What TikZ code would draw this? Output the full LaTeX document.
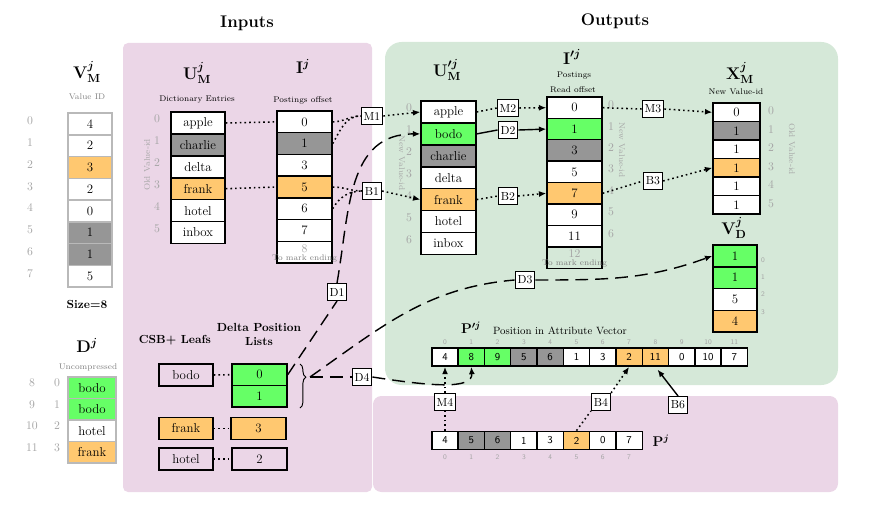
\documentclass[tikz,border=0pt]{standalone}
\usetikzlibrary{arrows.meta,decorations.pathreplacing}
\definecolor{cellgray}{RGB}{150,150,150}
\definecolor{cellgreen}{RGB}{102,255,102}
\definecolor{cellorange}{RGB}{255,200,112}
\definecolor{inpink}{RGB}{235,214,231}
\definecolor{outgreen}{RGB}{213,232,216}
\definecolor{idxgray}{RGB}{165,165,165}
\begin{document}
\begin{tikzpicture}[x=0.03cm,y=-0.03cm,>={Latex[length=2.2mm,width=1.8mm]},
    title/.style={font=\Large\bfseries\boldmath},
    sub/.style={font=\scriptsize},
    idx/.style={text=idxgray},
    sidx/.style={text=idxgray,font=\sffamily\fontsize{6}{7}\selectfont},
    vlab/.style={text=idxgray,font=\scriptsize,rotate=-90},
    cell/.style={draw,line width=1.2pt,inner sep=0pt,minimum height=0.65cm,font=\fontsize{11}{13}\selectfont},
    lcell/.style={draw=gray!55,line width=1.2pt,inner sep=0pt,minimum height=0.65cm,font=\fontsize{11}{13}\selectfont},
    pcell/.style={draw,line width=1.2pt,inner sep=0pt,minimum width=0.79cm,minimum height=0.55cm,font=\sffamily\small},
    tag/.style={draw,line width=1.2pt,fill=white,inner sep=2pt,minimum height=0.5cm},
    dots/.style={dash pattern=on 1.4pt off 2.6pt,line width=1.3pt},
    longdash/.style={dash pattern=on 11pt off 6pt,line width=1.2pt}]
\useasboundingbox (0,0) rectangle (874,507);

\fill[inpink,rounded corners=0.15cm] (123,43) rectangle (372,492);
\fill[outgreen,rounded corners=0.5cm] (385,42) rectangle (838,385);
\fill[inpink,rounded corners=0.25cm] (373,396) rectangle (838,492);

\node[font=\Large\bfseries] (inputs) at (247,23) {Inputs};
\node[font=\Large\bfseries] (outputs) at (615,21) {Outputs};

% left column
\node[title] (vmt) at (87,72) {$\mathbf{V}^j_\mathbf{M}$};
\node[sub,text=gray] (vmsub) at (87,97) {Value ID};
\foreach \v/\c [count=\i from 0] in {4/white,2/white,3/cellorange,2/white,0/white,1/cellgray,1/cellgray,5/white} {
    \node[lcell,minimum width=1.32cm,fill=\c] (vm\i) at (90,{123.9+21.75*\i}) {\v};
    \node[idx] (vmi\i) at (30,{121+21.75*\i}) {\i};
}
\node[font=\bfseries] (size) at (87,304) {Size=8};
\node[title] (djt) at (87,345) {$\mathbf{D}^j$};
\node[sub,text=gray] (djsub) at (88,367) {Uncompressed};
\foreach \t/\c [count=\i from 0] in {bodo/cellgreen,bodo/cellgreen,hotel/white,frank/cellorange} {
    \pgfmathtruncatemacro\o{\i+8}
    \node[lcell,minimum width=1.44cm,fill=\c] (dj\i) at (92,{387.8+21.5*\i}) {\t};
    \node[idx] (djo\i) at (32,{383+21.5*\i}) {\o};
    \node[idx] (dji\i) at (57,{383+21.5*\i}) {\i};
}

% inputs
\node[title] (umt) at (197,73) {$\mathbf{U}^j_\mathbf{M}$};
\node[sub] (umsub) at (197,100) {Dictionary Entries};
\foreach \t/\c [count=\i from 0] in {apple/white,charlie/cellgray,delta/white,frank/cellorange,hotel/white,inbox/white} {
    \node[cell,minimum width=1.62cm,fill=\c] (um\i) at (198,{123+21.9*\i}) {\t};
    \node[idx] (umi\i) at (157,{119+21.9*\i}) {\i};
}
\node[vlab,rotate=180] (umv) at (147,165) {Old Value-id};
\node[title] (ijt) at (303,66) {$\mathbf{I}^j$};
\node[sub] (ijsub) at (303,100) {Postings offset};
\foreach \v/\c [count=\i from 0] in {0/white,1/cellgray,3/white,5/cellorange,6/white,7/white,{}/white} {
    \node[cell,minimum width=1.65cm,fill=\c] (ij\i) at (304.5,{121.9+21.7*\i}) {\v};
}
\node[idx] (ijend) at (304.5,249) {8};
\node[sub,text=gray] (ijnote) at (304.5,258) {To mark ending};

\node[font=\bfseries] (csb) at (175,340) {CSB+ Leafs};
\node[font=\bfseries,align=center] (dpl) at (259,334) {Delta Position\\Lists};
\node[cell,minimum width=1.62cm] (lfb) at (186,375) {bodo};
\node[cell,minimum width=1.62cm,fill=cellorange] (lff) at (186,428.5) {frank};
\node[cell,minimum width=1.62cm] (lfh) at (186,459) {hotel};
\node[cell,minimum width=1.65cm,fill=cellgreen] (dlb0) at (259.5,374.7) {0};
\node[cell,minimum width=1.65cm,fill=cellgreen] (dlb1) at (259.5,396.2) {1};
\node[cell,minimum width=1.65cm,fill=cellorange] (dlf) at (258.5,428.5) {3};
\node[cell,minimum width=1.65cm] (dlh) at (259.5,459) {2};
\draw[thick,decorate,decoration={brace,amplitude=5pt,aspect=0.3}] (300,364) -- (300,408);
\coordinate (brc) at (310,377);

% outputs
\node[title] (upt) at (447,70) {$\mathbf{U}'^j_\mathbf{M}$};
\foreach \t/\c [count=\i from 0] in {apple/white,bodo/cellgreen,charlie/cellgray,delta/white,frank/cellorange,hotel/white,inbox/white} {
    \node[cell,minimum width=1.65cm,fill=\c] (up\i) at (448.5,{112+21.9*\i}) {\t};
    \node[idx] (upi\i) at (409,{108+21.9*\i}) {\i};
}
\node[vlab] (upv) at (402,163) {New Value-id};
\node[title] (ipt) at (572,57) {$\mathbf{I}'^j$};
\node[sub] (ipsub) at (574,76) {Postings};
\node[sub] (ipsub2) at (573,90) {Read offset};
\foreach \v/\c [count=\i from 0] in {0/white,1/cellgreen,3/cellgray,5/white,7/cellorange,9/white,11/white} {
    \node[cell,minimum width=1.65cm,fill=\c] (ip\i) at (574.5,{107.7+21.4*\i}) {\v};
    \node[idx] (ipi\i) at (611,{105+21.4*\i}) {\i};
}
\node[cell,minimum width=1.65cm] (ip7) at (574.5,257.5) {};
\node[idx] (ipend) at (574.5,254) {12};
\node[sub,text=gray] (ipnote) at (574.5,263) {To mark ending};
\node[vlab] (ipv) at (622,150) {New Value-id};

\node[title] (xmt) at (740,73) {$\mathbf{X}^j_\mathbf{M}$};
\node[sub] (xmsub) at (736,92) {New Value-id};
\foreach \v/\c [count=\i from 0] in {0/white,1/cellgray,1/white,1/cellorange,1/white,1/white} {
    \node[cell,minimum width=1.41cm,minimum height=0.555cm,fill=\c] (xm\i) at (736.5,{112.3+18.5*\i}) {\v};
    \node[idx] (xmi\i) at (771,{111+18.5*\i}) {\i};
}
\node[vlab] (xmv) at (792,149) {Old Value-id};

\node[title] (vdt) at (734,228) {$\mathbf{V}^j_\mathbf{D}$};
\foreach \v/\c [count=\i from 0] in {1/cellgreen,1/cellgreen,5/white,4/cellorange} {
    \node[cell,minimum width=1.32cm,fill=\c] (vd\i) at (735,{255.9+21.75*\i}) {\v};
    \node[sidx] (vdi\i) at (763,{260+17.3*\i}) {\i};
}

\node[font=\large\bfseries\boldmath] (ppt) at (471,328) {$\mathbf{P}'^j$};
\node[font=\small,anchor=west] (ppsub) at (489,331) {Position in Attribute Vector};
\foreach \v/\c [count=\i from 0] in {4/white,8/cellgreen,9/cellgreen,5/cellgray,6/cellgray,1/white,3/white,2/cellorange,11/cellorange,0/white,10/white,7/white} {
    \node[pcell,fill=\c] (pp\i) at ({445+26.3*\i},357) {\v};
    \node[sidx] (ppi\i) at ({445+26.3*\i},342) {\i};
}
\foreach \v/\c [count=\i from 0] in {4/white,5/cellgray,6/cellgray,1/white,3/white,2/cellorange,0/white,7/white} {
    \node[pcell,fill=\c] (p\i) at ({445+26.3*\i},440.5) {\v};
    \node[sidx] (pi\i) at ({445+26.3*\i},457) {\i};
}
\node[font=\large\bfseries\boldmath] (pt) at (661,441) {$\mathbf{P}^j$};

% step tags
\node[tag] (m1) at (372,116) {M1};
\node[tag] (b1) at (372,191) {B1};
\node[tag] (d1) at (337,292) {D1};
\node[tag] (d4) at (362,377) {D4};
\node[tag] (m2) at (508,108) {M2};
\node[tag] (d2) at (508,130) {D2};
\node[tag] (b2) at (508,196) {B2};
\node[tag] (m3) at (653,109) {M3};
\node[tag] (b3) at (653,181) {B3};
\node[tag] (d3) at (525,280) {D3};
\node[tag] (m4) at (445,402) {M4};
\node[tag] (b4) at (601,402) {B4};
\node[tag] (b6) at (678,405) {B6};

% connectors
\path[dots] (um0.east) edge (ij0.west) (um3.east) edge (ij3.west);
\path[dots] (lfb.east) edge (dlb0.west) (lff.east) edge (dlf.west) (lfh.east) edge (dlh.west);
\path[dots] (ij0.east) edge[out=0,in=180] (m1.west)
    (ij1.east) edge[out=60,in=180] (m1.west)
    (m1.east) edge[->] (up0.west);
\path[dots] (ij3.east) edge[out=0,in=180] (b1.west)
    (ij4.east) edge[out=60,in=180] (b1.west)
    (b1.east) edge[->] (up4.west);
\path[dots] (up0.east) edge (m2.west) (m2.east) edge[->] (ip0.west);
\path[dots] (up4.east) edge (b2.west) (b2.east) edge[->] (ip4.west);
\path[line width=1.2pt] (up1.east) edge (d2.west) (d2.east) edge[->] (ip1.west);
\path[dots] (ip0.east) edge (m3.west) (m3.east) edge[->] (xm0.west);
\path[dots] (ip4.east) edge (b3.west) (b3.east) edge[->] (xm3.west);
\path[longdash] (dlb0.east) edge (d1.south)
    (d1.north) edge[->,out=80,in=180,looseness=1.1] (up1.west);
\path[longdash] (brc) edge[out=35,in=185] (d3.west)
    (d3.east) edge[->,out=0,in=200] (vd0.west);
\path[longdash] (brc) edge (d4.west);
\draw[longdash,->] (d4.east) .. controls (430,386) and (473,390) .. (pp1.south);
\path[dots] (p0.north) edge (m4.south) (m4.north) edge[->] (pp0.south);
\path[dots] (p5.north) edge (b4.south west) (b4.north east) edge[->] (pp7.south);
\path[line width=1.2pt] (b6.north) edge[->,shorten >=3pt] (pp8.south);
\end{tikzpicture}
\end{document}
